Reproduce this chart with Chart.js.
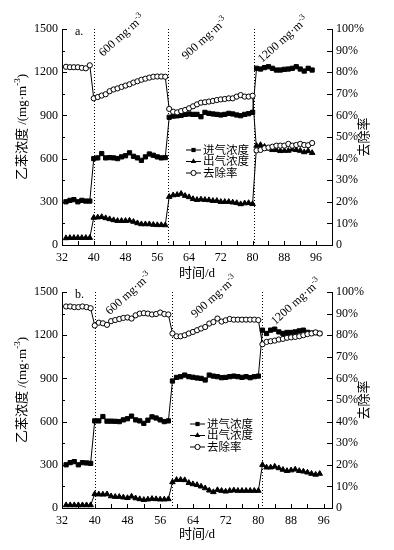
<!DOCTYPE html>
<html>
<head>
<meta charset="utf-8">
<script src="https://cdn.jsdelivr.net/npm/chart.js@4/dist/chart.umd.min.js"></script>
<style>
body { margin: 0; background: #fff; }
#wrap { position: relative; width: 394px; height: 550px; }
canvas { position: absolute; left: 0; }
</style>
</head>
<body>
<div id="wrap">
<canvas id="chartA" width="394" height="285" style="top:0"></canvas>
<canvas id="chartB" width="394" height="287" style="top:263px"></canvas>
<canvas id="notes" width="394" height="550" style="top:0; pointer-events:none"></canvas>
</div>
<script>
// 时间 (d)
var days = [33, 34, 35, 36, 37, 38, 39,
    40, 41, 42, 43, 44, 45, 46, 47, 48, 49, 50, 51, 52, 53, 54, 55, 56, 57, 58,
    59, 60, 61, 62, 63, 64, 65, 66, 67, 68, 69, 70, 71, 72, 73, 74, 75, 76, 77, 78, 79, 80,
    81, 82, 83, 84, 85, 86, 87, 88, 89, 90, 91, 92, 93, 94, 95];

// a. 进气/出气浓度 (mg·m-3), 去除率 (%)
var inletA = [300, 310, 315, 300, 310, 305, 305,
    600, 605, 635, 605, 607, 605, 600, 612, 620, 640, 616, 605, 588, 612, 632, 623, 612, 605, 607,
    887, 895, 897, 900, 907, 910, 907, 907, 891, 921, 914, 910, 907, 903, 907, 914, 910, 903, 898, 907, 912, 921,
    1227, 1222, 1232, 1238, 1227, 1215, 1215, 1220, 1222, 1227, 1238, 1222, 1208, 1227, 1215];
var outletA = [48, 50, 50, 50, 50, 50, 50,
    190, 192, 195, 187, 180, 173, 168, 168, 168, 170, 162, 152, 145, 145, 145, 141, 139, 139, 138,
    335, 346, 349, 356, 342, 333, 320, 314, 317, 314, 312, 307, 307, 300, 300, 300, 296, 292, 284, 290, 292, 285,
    690, 695, 683, 670, 660, 660, 653, 655, 655, 664, 660, 655, 645, 653, 640];
var removalA = [82.5, 82.3, 82.3, 82.3, 82.0, 81.8, 83.2,
    67.9, 68.5, 69.2, 69.8, 71.2, 72.0, 72.5, 73.2, 73.8, 74.4, 75.2, 75.8, 76.5, 77.0, 77.5, 77.9, 78.0, 78.0, 77.9,
    63.0, 61.7, 61.4, 62.0, 62.5, 63.3, 64.2, 65.1, 65.9, 66.1, 66.4, 66.7, 67.1, 67.4, 67.6, 67.9, 67.9, 68.7, 69.4, 68.7, 68.7, 69.1,
    43.8, 44.0, 44.8, 45.1, 45.5, 46.0, 46.0, 46.0, 46.8, 46.0, 46.3, 46.8, 46.3, 46.2, 47.2];

// b.
var inletB = [300, 315, 322, 300, 315, 313, 310,
    605, 605, 635, 603, 603, 602, 600, 612, 620, 638, 612, 605, 588, 610, 633, 625, 612, 600, 605,
    882, 907, 912, 923, 912, 908, 903, 900, 889, 923, 916, 912, 905, 907, 912, 916, 912, 907, 912, 905, 912, 916,
    1235, 1212, 1235, 1242, 1223, 1212, 1219, 1219, 1223, 1230, 1235, 1220, 1215, 1218, 1212];
var outletB = [20, 20, 20, 20, 20, 20, 20,
    97, 95, 94, 96, 82, 78, 78, 74, 70, 80, 68, 62, 57, 60, 64, 62, 60, 60, 62,
    180, 196, 196, 194, 175, 166, 160, 150, 138, 122, 111, 125, 120, 115, 120, 123, 120, 120, 120, 120, 120, 120,
    300, 282, 282, 288, 277, 266, 258, 262, 268, 258, 254, 247, 238, 232, 238];
var removalB = [93.3, 93.3, 93.0, 93.0, 93.3, 93.0, 92.5,
    84.5, 85.8, 85.5, 84.8, 86.5, 87.0, 87.5, 88.0, 88.2, 87.7, 89.2, 90.0, 90.2, 90.0, 89.6, 89.8, 90.5, 89.8, 89.6,
    80.8, 79.5, 79.5, 80.0, 80.8, 81.5, 82.3, 83.1, 83.8, 85.4, 86.1, 87.7, 86.3, 86.9, 87.5, 87.2, 87.2, 87.2, 87.2, 87.2, 87.2, 87.0,
    75.8, 76.9, 77.2, 77.5, 78.0, 78.3, 78.8, 79.0, 79.2, 79.5, 80.0, 80.5, 80.8, 81.3, 80.8];

var seriesNames = ['进气浓度', '出气浓度', '去除率'];
var stageNames = ['600 mg·m', '900 mg·m', '1200 mg·m'];
var stageStartA = [40, 58.8, 80.4];
var stageStartB = [40, 58.8, 80.9];

var FONT = "'Liberation Serif', 'Noto Sans CJK SC', serif";
var NOTE_ANGLE = 42 * Math.PI / 180;

// 上付き文字を含むテキスト
function richText(ctx, pieces, size, x, y, center) {
    var w = 0;
    pieces.forEach(function (p) {
        ctx.font = (p.sup ? size * 0.7 : size) + 'px ' + FONT;
        p.w = ctx.measureText(p.t).width;
        w += p.w;
    });
    var cx = center ? x - w / 2 : x;
    pieces.forEach(function (p) {
        ctx.font = (p.sup ? size * 0.7 : size) + 'px ' + FONT;
        ctx.fillText(p.t, cx, p.sup ? y - size * 0.4 : y);
        cx += p.w;
    });
}

function drawMarker(ctx, style, x, y) {
    ctx.beginPath();
    if (style === 'rect') {
        ctx.rect(x - 2.1, y - 2.1, 4.2, 4.2);
        ctx.fill();
    } else if (style === 'triangle') {
        ctx.moveTo(x, y - 3.2);
        ctx.lineTo(x + 2.8, y + 1.6);
        ctx.lineTo(x - 2.8, y + 1.6);
        ctx.closePath();
        ctx.fill();
    } else {
        ctx.arc(x, y, 2.6, 0, Math.PI * 2);
        ctx.fillStyle = '#fff';
        ctx.fill();
        ctx.stroke();
        ctx.fillStyle = '#000';
    }
}

var decor = {
    id: 'decor',
    beforeDatasetsDraw: function (chart, args, o) {
        var ctx = chart.ctx, a = chart.chartArea, xs = chart.scales.x;
        ctx.save();
        ctx.strokeStyle = '#000';
        ctx.lineWidth = 1;
        ctx.setLineDash([1, 2]);
        o.stages.forEach(function (d) {
            var px = Math.round(xs.getPixelForValue(d)) + 0.5;
            ctx.beginPath();
            ctx.moveTo(px, a.top);
            ctx.lineTo(px, a.bottom);
            ctx.stroke();
        });
        ctx.restore();
    },
    afterDraw: function (chart, args, o) {
        var ctx = chart.ctx, a = chart.chartArea;
        var xs = chart.scales.x, ys = chart.scales.y, y2 = chart.scales.y2;
        ctx.save();
        ctx.strokeStyle = '#000';
        ctx.fillStyle = '#000';
        ctx.lineWidth = 1;

        // 内向きの目盛り
        ctx.beginPath();
        xs.ticks.forEach(function (t) {
            var px = Math.round(xs.getPixelForValue(t.value)) + 0.5;
            ctx.moveTo(px, a.bottom);
            ctx.lineTo(px, a.bottom - 4);
        });
        ys.ticks.forEach(function (t) {
            var py = Math.round(ys.getPixelForValue(t.value)) + 0.5;
            ctx.moveTo(a.left, py);
            ctx.lineTo(a.left + (t.value % 300 === 0 ? 5 : 3), py);
        });
        y2.ticks.forEach(function (t) {
            var py = Math.round(y2.getPixelForValue(t.value)) + 0.5;
            ctx.moveTo(a.right, py);
            ctx.lineTo(a.right - (t.value % 10 === 0 ? 5 : 3), py);
        });
        ctx.stroke();

        // 面板字母
        ctx.textAlign = 'left';
        ctx.textBaseline = 'alphabetic';
        ctx.font = '12px ' + FONT;
        ctx.fillText(o.letter, a.left + 13, a.top + 6);

        // 轴标题
        ctx.textBaseline = 'middle';
        ctx.save();
        ctx.translate(23, a.top + 98);
        ctx.rotate(-Math.PI / 2);
        richText(ctx, [{ t: '乙苯浓度 /(mg·m' }, { t: '-3', sup: true }, { t: ')' }], 13, 0, 0, true);
        ctx.restore();
        ctx.save();
        ctx.translate(365, (a.top + a.bottom) / 2);
        ctx.rotate(-Math.PI / 2);
        richText(ctx, [{ t: '去除率' }], 13, 0, 0, true);
        ctx.restore();
        richText(ctx, [{ t: '时间/d' }], 13, (a.left + a.right) / 2, o.xTitleY, true);

        // 图例
        var styles = ['rect', 'triangle', 'circle'];
        seriesNames.forEach(function (name, k) {
            var ly = o.legend[1] + k * 11.5;
            ctx.beginPath();
            ctx.moveTo(o.legend[0], ly);
            ctx.lineTo(o.legend[0] + 15, ly);
            ctx.stroke();
            drawMarker(ctx, styles[k], o.legend[0] + 7.5, ly);
            ctx.font = '11.5px ' + FONT;
            ctx.textAlign = 'left';
            ctx.fillText(name, o.legend[0] + 17, ly + 0.5);
        });
        ctx.restore();
    }
};

function makeChart(id, h, p) {
    var tickFont = { family: FONT, size: 12 };
    var line = { borderColor: '#000', borderWidth: 1, tension: 0, pointBorderColor: '#000', pointBorderWidth: 1 };
    return new Chart(document.getElementById(id), {
        type: 'line',
        data: {
            labels: days,
            datasets: [
                Object.assign({ label: seriesNames[0], data: p.inlet, yAxisID: 'y', pointStyle: 'rect',
                    pointRadius: 3, pointBackgroundColor: '#000', order: 1 }, line),
                Object.assign({ label: seriesNames[1], data: p.outlet, yAxisID: 'y', pointStyle: 'triangle',
                    pointRadius: 3.2, pointBackgroundColor: '#000', order: 2 }, line),
                Object.assign({ label: seriesNames[2], data: p.removal, yAxisID: 'y2', pointStyle: 'circle',
                    pointRadius: 2.6, pointBackgroundColor: '#fff', order: 0 }, line)
            ]
        },
        options: {
            responsive: false,
            animation: false,
            devicePixelRatio: 1,
            layout: { padding: { top: 29, left: 0, right: 0, bottom: 0 } },
            plugins: {
                legend: false,
                tooltip: { enabled: false },
                decor: { stages: p.stages, letter: p.letter, legend: p.legend, xTitleY: p.xTitleY }
            },
            scales: {
                x: {
                    type: 'linear', min: 32, max: p.xMax,
                    grid: { display: false, drawTicks: false },
                    border: { display: true, color: '#000', width: 1 },
                    ticks: { stepSize: 4, includeBounds: false, autoSkip: false, maxRotation: 0, padding: 6,
                        color: '#000', font: tickFont,
                        callback: function (v) { return v % 8 === 0 ? v : ''; } },
                    afterFit: function (s) { s.height = h - 245; }
                },
                y: {
                    position: 'left', min: 0, max: 1500,
                    grid: { display: false, drawTicks: false },
                    border: { display: true, color: '#000', width: 1 },
                    ticks: { stepSize: 150, padding: 4, color: '#000', font: tickFont,
                        callback: function (v) { return v % 300 === 0 ? v : ''; } },
                    afterFit: function (s) { s.width = 62; }
                },
                y2: {
                    position: 'right', min: 0, max: 100,
                    grid: { display: false, drawTicks: false },
                    border: { display: true, color: '#000', width: 1 },
                    ticks: { stepSize: 5, padding: 4, color: '#000', font: tickFont,
                        callback: function (v) { return v % 10 === 0 ? (v === 0 ? '0' : v + '%') : ''; } },
                    afterFit: function (s) { s.width = 62; }
                }
            }
        },
        plugins: [decor]
    });
}

var chartA = makeChart('chartA', 285, {
    inlet: inletA, outlet: outletA, removal: removalA, xMax: 100,
    stages: stageStartA, letter: 'a.', xTitleY: 274, legend: [186, 150]
});
var chartB = makeChart('chartB', 287, {
    inlet: inletB, outlet: outletB, removal: removalB, xMax: 98,
    stages: stageStartB, letter: 'b.', xTitleY: 272, legend: [190, 161]
});

// 浓度区间标注 (斜 42°), 两个面板共用一层
var notePos = [
    { chart: chartA, top: 0, at: [[42.3, 1306], [63.2, 1285], [82.4, 1264]] },
    { chart: chartB, top: 263, at: [[43.7, 1339], [64.6, 1318], [84.1, 1269]] }
];
var nctx = document.getElementById('notes').getContext('2d');
nctx.fillStyle = '#000';
nctx.textAlign = 'left';
nctx.textBaseline = 'alphabetic';
notePos.forEach(function (n) {
    var xs = n.chart.scales.x, ys = n.chart.scales.y;
    n.at.forEach(function (pt, i) {
        nctx.save();
        nctx.translate(xs.getPixelForValue(pt[0]), n.top + ys.getPixelForValue(pt[1]));
        nctx.rotate(-NOTE_ANGLE);
        richText(nctx, [{ t: stageNames[i] }, { t: '-3', sup: true }], 12, 0, 0, false);
        nctx.restore();
    });
});
</script>
</body>
</html>
